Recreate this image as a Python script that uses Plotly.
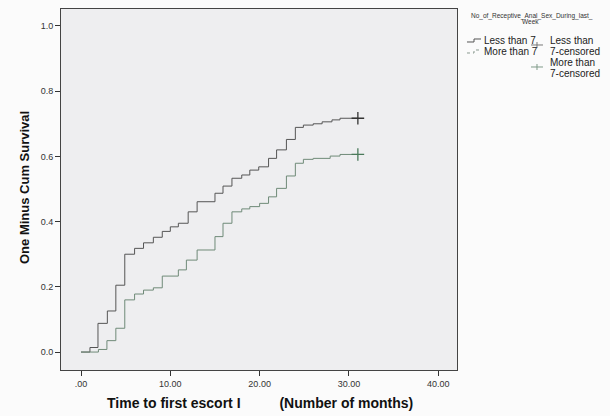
import plotly.graph_objects as go

# Data: step points (time in months, one minus cumulative survival)
less_t = [0.0, 1.0, 1.9, 2.95, 3.9, 4.9, 6.0, 7.0, 8.1, 9.1, 10.0, 10.9, 12.0, 13.0, 15.0,
          15.9, 16.9, 18.0, 18.9, 19.9, 21.0, 21.9, 23.0, 24.0, 24.9, 26.0, 27.0, 28.1, 29.0, 31.0]
less_v = [0.0, 0.014, 0.088, 0.126, 0.205, 0.30, 0.318, 0.335, 0.352, 0.370, 0.384, 0.395, 0.430, 0.461, 0.487,
          0.509, 0.533, 0.543, 0.558, 0.568, 0.594, 0.620, 0.652, 0.689, 0.696, 0.700, 0.706, 0.712, 0.717, 0.717]
more_t = [0.0, 1.95, 2.9, 3.9, 4.9, 6.0, 7.0, 8.1, 9.1, 10.9, 11.8, 13.0, 15.0, 15.9, 16.9,
          18.0, 18.9, 20.0, 21.0, 21.9, 23.0, 24.0, 24.9, 26.0, 27.9, 29.0, 31.0]
more_v = [0.0, 0.008, 0.035, 0.073, 0.160, 0.178, 0.190, 0.197, 0.233, 0.252, 0.282, 0.313, 0.354, 0.395, 0.430,
          0.439, 0.446, 0.456, 0.476, 0.502, 0.540, 0.579, 0.591, 0.594, 0.601, 0.606, 0.606]
cens_t = [31.0]
less_cens_v = [0.717]
more_cens_v = [0.606]

x_ticks = [0, 10, 20, 30, 40]
x_tick_text = [".00", "10.00", "20.00", "30.00", "40.00"]
y_ticks = [0.0, 0.2, 0.4, 0.6, 0.8, 1.0]
y_tick_text = ["0.0", "0.2", "0.4", "0.6", "0.8", "1.0"]

LESS_COL = "#555555"
MORE_COL = "#6f8a78"

W, H = 610, 416
L, R, T, B = 61, 457, 9, 370


def px(x):
    return (x - L) / (R - L)


def py(y):
    return (B - y) / (B - T)


fig = go.Figure()
fig.add_trace(go.Scatter(x=less_t, y=less_v, mode="lines", line=dict(color=LESS_COL, width=1, shape="hv"),
                         showlegend=False, hoverinfo="skip"))
fig.add_trace(go.Scatter(x=more_t, y=more_v, mode="lines", line=dict(color=MORE_COL, width=1, shape="hv"),
                         showlegend=False, hoverinfo="skip"))
fig.add_trace(go.Scatter(x=cens_t, y=less_cens_v, mode="markers",
                         marker=dict(symbol="cross-thin", size=9, line=dict(color="#333333", width=1.3)),
                         showlegend=False, hoverinfo="skip"))
fig.add_trace(go.Scatter(x=cens_t, y=more_cens_v, mode="markers",
                         marker=dict(symbol="cross-thin", size=9, line=dict(color="#4a7a5a", width=1.3)),
                         showlegend=False, hoverinfo="skip"))

tickfont = dict(family="Arial, Liberation Sans, sans-serif", size=9, color="#333333")
fig.update_xaxes(range=[-2.24, 42.1], tickvals=x_ticks, ticktext=x_tick_text, ticks="outside", ticklen=5,
                 tickcolor="#333333", showgrid=False, zeroline=False, showline=True, linecolor="#444444",
                 mirror=True, linewidth=1, tickfont=tickfont)
fig.update_yaxes(range=[-0.055, 1.052], tickvals=y_ticks, ticktext=y_tick_text, ticks="outside", ticklen=5,
                 tickcolor="#333333", showgrid=False, zeroline=False, showline=True, linecolor="#444444",
                 mirror=True, linewidth=1, tickfont=tickfont)

ann = []
bold_x = dict(family="Arial, Liberation Sans, sans-serif", size=14, color="#111111")
bold_y = dict(family="Arial, Liberation Sans, sans-serif", size=13, color="#111111")
ann.append(dict(text="<b>Time to first escort I" + "\u00a0" * 10 + "(Number of months)</b>",
                x=px(260), y=py(403), xref="paper", yref="paper", showarrow=False, font=bold_x,
                xanchor="center", yanchor="middle"))
ann.append(dict(text="<b>One Minus Cum Survival</b>", x=px(24), y=py(188), xref="paper", yref="paper",
                showarrow=False, font=bold_y, textangle=-90, xanchor="center", yanchor="middle"))

lf = dict(family="Arial, Liberation Sans, sans-serif", size=10, color="#222222")
sf = dict(family="Arial, Liberation Sans, sans-serif", size=6.5, color="#333333")
ann.append(dict(text="No_of_Receptive_Anal_Sex_During_last_", x=px(532), y=py(16), xref="paper",
                yref="paper", showarrow=False, font=sf, xanchor="center", yanchor="middle"))
ann.append(dict(text="Week", x=px(530), y=py(22), xref="paper",
                yref="paper", showarrow=False, font=sf, xanchor="center", yanchor="middle"))


def label(txt, x, y):
    ann.append(dict(text=txt, x=px(x), y=py(y), xref="paper", yref="paper", showarrow=False,
                    font=lf, xanchor="left", yanchor="middle"))


label("Less than 7", 482, 40.5)
label("More than 7", 482, 51.5)
label("Less than", 548, 40.5)
label("7-censored", 548, 51.5)
label("More than", 548, 62.5)
label("7-censored", 548, 73.5)

shapes = []


def path(pts):
    return "M " + " L ".join(f"{px(a):.5f},{py(b):.5f}" for a, b in pts)


shapes.append(dict(type="path", xref="paper", yref="paper",
                   path=path([(467, 42), (474, 42), (474, 39), (481, 39)]),
                   line=dict(color=LESS_COL, width=1)))
shapes.append(dict(type="path", xref="paper", yref="paper",
                   path=path([(467, 53), (474, 53), (474, 50), (481, 50)]),
                   line=dict(color="#8a9a90", width=1, dash="dot")))
# censored legend symbols
for (cx, cy, col) in [(537, 45, "#777777"), (537, 67, "#7f9a88")]:
    shapes.append(dict(type="path", xref="paper", yref="paper",
                       path=path([(cx - 6, cy), (cx + 6, cy)]), line=dict(color=col, width=1)))
    shapes.append(dict(type="path", xref="paper", yref="paper",
                       path=path([(cx, cy - 3), (cx, cy + 3)]), line=dict(color=col, width=1)))

fig.update_layout(width=W, height=H, margin=dict(l=L, r=W - R, t=T, b=H - B),
                  plot_bgcolor="#eeeef0", paper_bgcolor="#fbfbfb", annotations=ann, shapes=shapes,
                  showlegend=False)

fig.write_html("out.html")
